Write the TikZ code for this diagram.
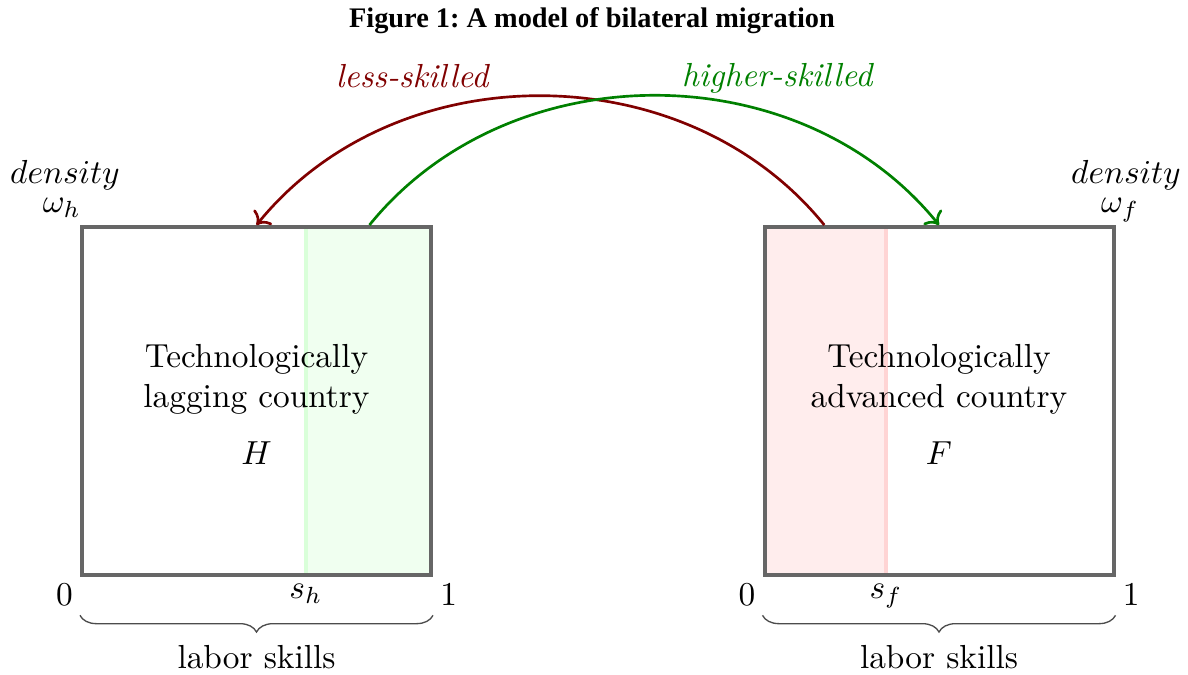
\documentclass[tikz,border=0pt]{standalone}
\usepackage{fontspec}
\newfontfamily\headfont{Liberation Serif}
\usetikzlibrary{arrows.meta,positioning,calc,decorations.pathreplacing,backgrounds}
\colorlet{lowskill}{red!50!black}
\colorlet{highskill}{green!50!black}

\begin{document}
\begin{tikzpicture}[
  x=0.3pt, y=0.3pt,
  country/.style={draw=black!60, very thick, minimum width=104.7pt, minimum height=104.4pt, inner sep=0pt},
  inside/.style={align=center, inner sep=0pt},
  tick/.style={inner sep=2pt},
  flow/.style={thick, -{To}},
  skillbrace/.style={decorate, draw=black!70, decoration={brace, mirror, amplitude=5pt, raise=11.5pt}}
]
\useasboundingbox (0,0) rectangle (1188,674);
\node[anchor=base, font=\headfont\bfseries\fontsize{8.5}{10}\selectfont] (title) at (592,647) {Figure 1:~A model of bilateral migration};

% the two countries on the skill interval [0,1]
\node[country] (H) at (256.5,273) {};
\node[country] (F) at (939,273) {};
\coordinate (sh) at ($(H.south west)!0.64!(H.south east)$);
\coordinate (sf) at ($(F.south west)!0.35!(F.south east)$);

% who leaves
\begin{scope}[on background layer]
  \fill[green!6] (sh) rectangle (H.north east);
  \fill[red!7] (F.south west) rectangle (sf |- F.north);
  \draw[green!15, line width=1pt] (sh) -- (sh |- H.north);
  \draw[red!17, line width=1pt] (sf) -- (sf |- F.north);
\end{scope}

\node[inside] (Htext) at ([yshift=6.6pt]H.center) {Technologically\\lagging country};
\node[inside, below=7.8pt of Htext] (Hname) {$H$};
\node[inside] (Ftext) at ([yshift=6.6pt]F.center) {Technologically\\advanced country};
\node[inside, below=7.8pt of Ftext] (Fname) {$F$};

\node[anchor=base] (wh) at (62,462) {$\omega_h$};
\node[anchor=base] (dh) at (65,491) {$density$};
\node[anchor=base] (wf) at (1120,462) {$\omega_f$};
\node[anchor=base] (df) at (1126,491) {$density$};

\node[tick, below left] (h0) at (H.south west) {$0$};
\node[tick, below] (shlab) at (sh) {$s_h$};
\node[tick, below right] (h1) at (H.south east) {$1$};
\node[tick, below left] (f0) at (F.south west) {$0$};
\node[tick, below] (sflab) at (sf) {$s_f$};
\node[tick, below right] (f1) at (F.south east) {$1$};

\draw[skillbrace] (H.south west) -- (H.south east);
\draw[skillbrace] (F.south west) -- (F.south east);
\node[below=17pt of H.south] (Hskill) {labor skills};
\node[below=17pt of F.south] (Fskill) {labor skills};

% migration flows
\coordinate (lowout) at ($(F.north west)!0.175!(F.north east)$);
\coordinate (highout) at ($(H.north west)!0.82!(H.north east)$);
\draw[flow, lowskill] (lowout) to[bend right=51] (H.north);
\draw[flow, highskill] (highout) to[bend left=51] (F.north);
\node[anchor=base, lowskill] (lowlab) at (413,587) {\textit{less-skilled}};
\node[anchor=base, highskill] (highlab) at (778,588) {\textit{higher-skilled}};
\end{tikzpicture}
\end{document}
